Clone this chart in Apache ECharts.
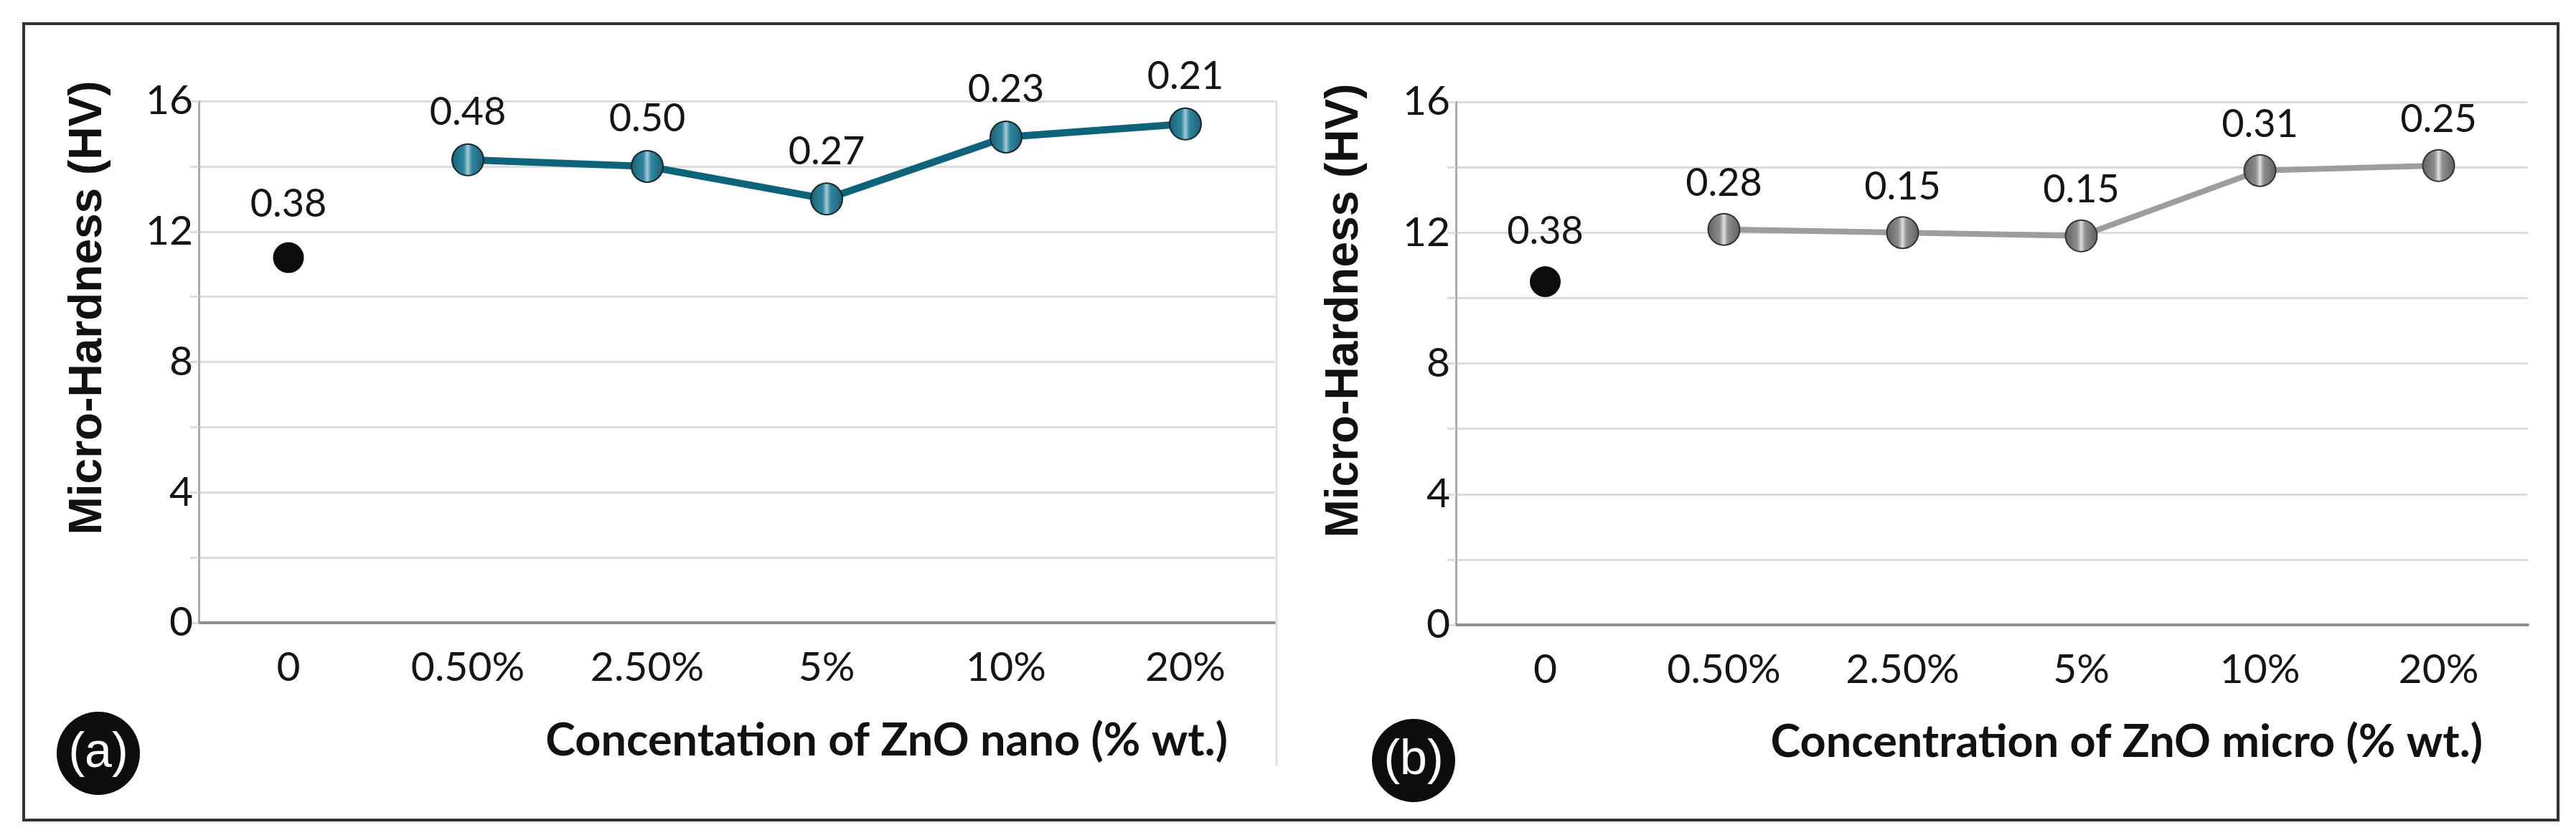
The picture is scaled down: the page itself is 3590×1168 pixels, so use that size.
<!DOCTYPE html>
<html>
<head>
<meta charset="utf-8">
<script src="https://cdn.jsdelivr.net/npm/echarts@6/dist/echarts.min.js"></script>
<style>
html,body{margin:0;padding:0;background:#ffffff;}
#chart{width:3590px;height:1168px;}
</style>
</head>
<body>
<div id="chart"></div>
<script>
// ---- data ----
const categories = ['0', '0.50%', '2.50%', '5%', '10%', '20%'];
const nanoHardness = [11.2, 14.2, 14.0, 13.0, 14.9, 15.3];
const nanoSD = ['0.38', '0.48', '0.50', '0.27', '0.23', '0.21'];
const microHardness = [10.5, 12.1, 12.0, 11.9, 13.9, 14.05];
const microSD = ['0.38', '0.28', '0.15', '0.15', '0.31', '0.25'];
const yTicks = [0, 4, 8, 12, 16];
const titleA = 'Concentation of ZnO nano (% wt.)';
const titleB = 'Concentration of ZnO micro (% wt.)';
const yTitle = 'Micro-Hardness (HV)';

// ---- styling helpers ----
const FONT = 'Lato';
const controlOnly = arr => arr.map((v, i) => i === 0 ? v : '-');
const treatedOnly = arr => arr.map((v, i) => i === 0 ? '-' : v);

function cyl(edge, mid, center) {
  return {
    type: 'linear', x: 0, y: 0, x2: 1, y2: 0,
    colorStops: [
      {offset: 0, color: edge},
      {offset: 0.38, color: mid},
      {offset: 0.5, color: center},
      {offset: 0.62, color: mid},
      {offset: 1, color: edge}
    ]
  };
}

function xAxisCfg(gi) {
  return {
    type: 'category', gridIndex: gi, data: categories, boundaryGap: true,
    axisLine: {show: true, lineStyle: {color: '#8f8f8f', width: 4}},
    axisTick: {show: false},
    axisLabel: {fontFamily: FONT, fontSize: 57, color: '#151515', margin: 34}
  };
}
function yAxisCfg(gi) {
  return {
    type: 'value', gridIndex: gi, min: 0, max: 16, interval: 2,
    axisLine: {show: true, lineStyle: {color: '#ababab', width: 3}},
    axisTick: {show: true, length: 12, lineStyle: {color: '#dcdcdc', width: 3}},
    splitLine: {show: true, lineStyle: {color: '#dcdcdc', width: 3}},
    axisLabel: {
      fontFamily: FONT, fontSize: 57, color: '#151515', margin: 8,
      padding: [0, 0, 16, 0],
      formatter: v => yTicks.indexOf(v) >= 0 ? String(v) : ''
    }
  };
}
function labelCfg(texts, dist) {
  return {
    show: true, position: 'top', distance: dist,
    fontFamily: FONT, fontSize: 54, color: '#151515',
    formatter: p => texts[p.dataIndex]
  };
}

const chart = echarts.init(document.getElementById('chart'), null, {renderer: 'canvas'});

chart.setOption({
  backgroundColor: '#ffffff',
  animation: false,
  grid: [
    {left: 277, right: 3590 - 1777, top: 141, bottom: 1168 - 868},
    {left: 2029, right: 3590 - 3523, top: 142, bottom: 1168 - 871}
  ],
  xAxis: [xAxisCfg(0), xAxisCfg(1)],
  yAxis: [yAxisCfg(0), yAxisCfg(1)],
  series: [
    {
      type: 'line', xAxisIndex: 0, yAxisIndex: 0, data: treatedOnly(nanoHardness),
      symbol: 'circle', symbolSize: 44,
      lineStyle: {color: '#0d6379', width: 10},
      itemStyle: {color: cyl('#1c5d70', '#2f86a0', '#a9cad6'), borderColor: '#14262c', borderWidth: 2, opacity: 1},
      label: labelCfg(nanoSD, 16), z: 3
    },
    {
      type: 'scatter', xAxisIndex: 0, yAxisIndex: 0, data: controlOnly(nanoHardness),
      symbol: 'circle', symbolSize: 43,
      itemStyle: {color: '#0c0c0c', opacity: 1},
      label: labelCfg(nanoSD, 26), z: 3
    },
    {
      type: 'line', xAxisIndex: 1, yAxisIndex: 1, data: treatedOnly(microHardness),
      symbol: 'circle', symbolSize: 44,
      lineStyle: {color: '#9d9d9d', width: 8},
      itemStyle: {color: cyl('#5e5e5e', '#8e8e8e', '#e0e0e0'), borderColor: '#333333', borderWidth: 2, opacity: 1},
      label: labelCfg(microSD, 14), z: 3
    },
    {
      type: 'scatter', xAxisIndex: 1, yAxisIndex: 1, data: controlOnly(microHardness),
      symbol: 'circle', symbolSize: 43,
      itemStyle: {color: '#0c0c0c', opacity: 1},
      label: labelCfg(microSD, 22), z: 3
    }
  ],
  graphic: [
    {type: 'rect', shape: {x: 33, y: 33, width: 3532, height: 1110},
     style: {fill: 'none', stroke: '#333333', lineWidth: 4}, z: 10},
    {type: 'line', shape: {x1: 1779, y1: 140, x2: 1779, y2: 1068},
     style: {stroke: '#e2e2e2', lineWidth: 3}, z: 1},
    {type: 'text', x: 123, y: 429, rotation: Math.PI / 2,
     style: {text: yTitle, font: 'bold 64px "Liberation Sans"', fill: '#111111',
             textAlign: 'center', textVerticalAlign: 'middle'}},
    {type: 'text', x: 1874, y: 433, rotation: Math.PI / 2,
     style: {text: yTitle, font: 'bold 64px "Liberation Sans"', fill: '#111111',
             textAlign: 'center', textVerticalAlign: 'middle'}},
    {type: 'text', x: 1711, y: 1033,
     style: {text: titleA, font: 'bold 63px Lato', fill: '#111111',
             textAlign: 'right', textVerticalAlign: 'middle'}},
    {type: 'text', x: 3460, y: 1035,
     style: {text: titleB, font: 'bold 63px Lato', fill: '#111111',
             textAlign: 'right', textVerticalAlign: 'middle'}},
    {type: 'circle', shape: {cx: 137, cy: 1050, r: 58}, style: {fill: '#0d0d0d'}},
    {type: 'text', x: 137, y: 1050,
     style: {text: '(a)', font: '68px "Liberation Sans"', fill: '#ffffff',
             textAlign: 'center', textVerticalAlign: 'middle'}},
    {type: 'circle', shape: {cx: 1970, cy: 1060, r: 58}, style: {fill: '#0d0d0d'}},
    {type: 'text', x: 1970, y: 1060,
     style: {text: '(b)', font: '68px "Liberation Sans"', fill: '#ffffff',
             textAlign: 'center', textVerticalAlign: 'middle'}}
  ]
});
</script>
</body>
</html>
